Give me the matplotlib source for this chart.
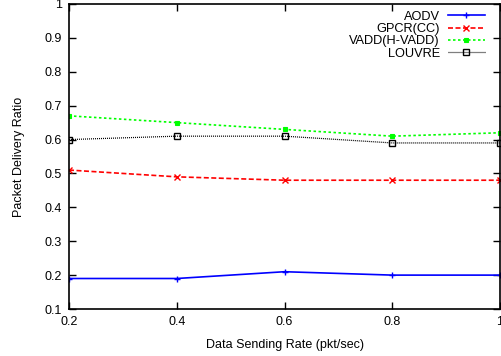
import numpy as np
import matplotlib.pyplot as plt

plt.rcParams['font.family'] = ['Liberation Sans', 'DejaVu Sans']

rate = [0.2, 0.4, 0.6, 0.8, 1.0]
aodv = [0.19, 0.19, 0.21, 0.20, 0.20]
gpcr = [0.51, 0.49, 0.48, 0.48, 0.48]
vadd = [0.67, 0.65, 0.63, 0.61, 0.62]
louvre = [0.60, 0.61, 0.61, 0.59, 0.59]

fig = plt.figure(figsize=(5.01, 3.56), dpi=100)
ax = fig.add_axes([69 / 501, 47 / 356, 431 / 501, 305 / 356])

ax.plot(rate, aodv, color="#0000ff", ls="-", lw=1.2, marker="+", ms=5, mew=1, label="AODV")
ax.plot(rate, gpcr, color="#ff0000", ls=(0, (3, 1.5)), lw=1.2, marker="x", ms=4, mew=1, label="GPCR(CC)")
ax.plot(rate, vadd, color="#00ff00", ls=(0, (1.5, 1.5)), lw=1.2, marker="s", ms=3.5, mew=0.8, label="VADD(H-VADD)")
ax.plot(rate, louvre, color="#000000", ls=(0, (0.8, 0.8)), lw=0.9, marker="s", ms=5, mew=1,
        mfc="none", label="LOUVRE")

ax.set_xlim(0.2, 1.0)
ax.set_ylim(0.1, 1.0)
ax.set_xticks([0.2, 0.4, 0.6, 0.8, 1.0])
ax.set_xticklabels(["0.2", "0.4", "0.6", "0.8", "1"])
ax.set_yticks(np.arange(0.1, 1.01, 0.1))
ax.set_yticklabels(["0.1", "0.2", "0.3", "0.4", "0.5", "0.6", "0.7", "0.8", "0.9", "1"])
ax.tick_params(direction="in", top=True, right=True, labelsize=9, length=5, width=1, pad=5)
for s in ax.spines.values():
    s.set_linewidth(1.2)

ax.set_xlabel("Data Sending Rate (pkt/sec)", fontsize=9, labelpad=8)
ax.set_ylabel("Packet Delivery Ratio", fontsize=9, labelpad=14)

ax.legend(loc="upper right", frameon=False, markerfirst=False, fontsize=9.2,
          handlelength=2.9, handletextpad=0.63, labelspacing=0.02,
          borderaxespad=0.2, bbox_to_anchor=(0.983, 1.003))

fig.savefig("out.png", dpi=100)
